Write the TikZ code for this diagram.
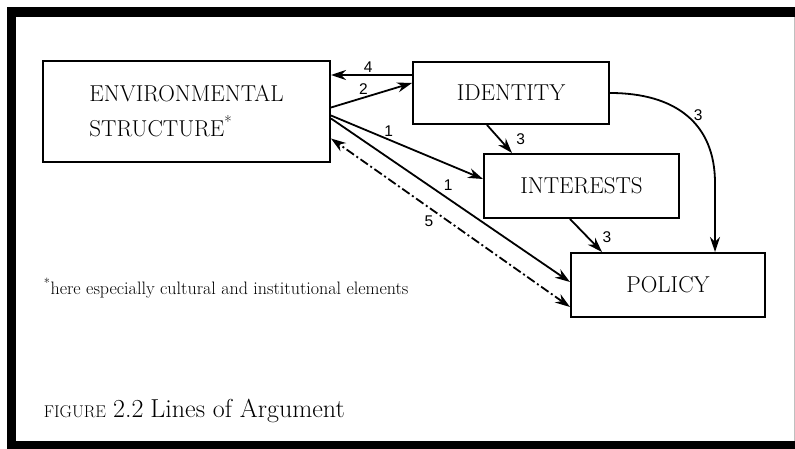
\documentclass[tikz,border=0pt]{standalone}
\usepackage{fontspec}
\newfontfamily\numfont{Liberation Sans}
\usetikzlibrary{positioning,arrows.meta}
\tikzset{box/.style={draw,line width=2pt,inner sep=0pt},
         num/.style={font=\numfont\fontsize{15.5}{15.5}\selectfont,inner sep=2pt},
         dashdot/.style={dash pattern=on 9pt off 3pt on 2pt off 3pt}}

\begin{document}
\begin{tikzpicture}[x=1pt,y=1pt,>={Stealth[length=15pt,width=10pt]},line width=1.8pt,
                    font=\fontsize{23}{35}\selectfont]
  \useasboundingbox (0,0) rectangle (795,-449);
  \fill (7,-7) rectangle (795,-449);
  \fill[white] (16,-17) rectangle (794,-441);
  \draw[gray!50,line width=1pt] (794.5,-17) -- (794.5,-441);

  \node[box,minimum width=287pt,minimum height=101pt,align=left] (env) at (186.5,-111.5)
        {ENVIRONMENTAL\\STRUCTURE\textsuperscript{*}};
  \node[box,minimum width=196pt,minimum height=62pt] (identity)
        [below right=1pt and 81pt of env.north east, anchor=north west] {IDENTITY};
  \node[box,minimum width=195pt,minimum height=64pt] (interests)
        [below right=28pt and 71pt of identity.south west, anchor=north west] {INTERESTS};
  \node[box,minimum width=194pt,minimum height=64pt] (policy)
        [below right=33pt and 87pt of interests.south west, anchor=north west] {POLICY};

  \node[anchor=west,inner sep=0pt,font=\fontsize{18}{18}\selectfont] (note) at (43,-288)
        {\textsuperscript{*}here especially cultural and institutional elements};
  \node[anchor=base west,inner sep=0pt,font=\fontsize{26}{26}\selectfont] (caption) at (43,-417)
        {{\fontsize{17}{17}\selectfont FIGURE}\hspace{7pt}2.2\hspace{7pt}Lines of Argument};

  \path[->]
        ([yshift=18pt]identity.west) edge node[num,above,pos=0.54] {4} ([yshift=36.5pt]env.east)
        ([yshift=4pt]env.east) edge node[num,above,pos=0.4] {2} ([yshift=10pt]identity.west)
        ([yshift=-4pt]env.east) edge node[num,above,pos=0.38] {1} ([yshift=7pt]interests.west)
        ([yshift=-7pt]env.east) edge node[num,above right,pos=0.46] {1} ([yshift=3pt]policy.west)
        ([yshift=-22pt]policy.west) edge[<->,dashdot] node[num,below left,pos=0.56] {5} ([yshift=-27pt]env.east)
        ([xshift=-24pt]identity.south) edge node[num,right=14pt,pos=0.5] {3} ([xshift=-69.5pt]interests.north)
        ([xshift=-11.5pt]interests.south) edge node[num,right=12pt,pos=0.55] {3} ([xshift=-66pt]policy.north)
  ;
  \draw[->] (identity.east) .. controls +(65pt,0) and +(0,60pt) .. ([xshift=47pt,yshift=69pt]policy.north)
        node[num,right=4pt,pos=0.5] {3} -- ([xshift=47pt]policy.north);
\end{tikzpicture}
\end{document}
